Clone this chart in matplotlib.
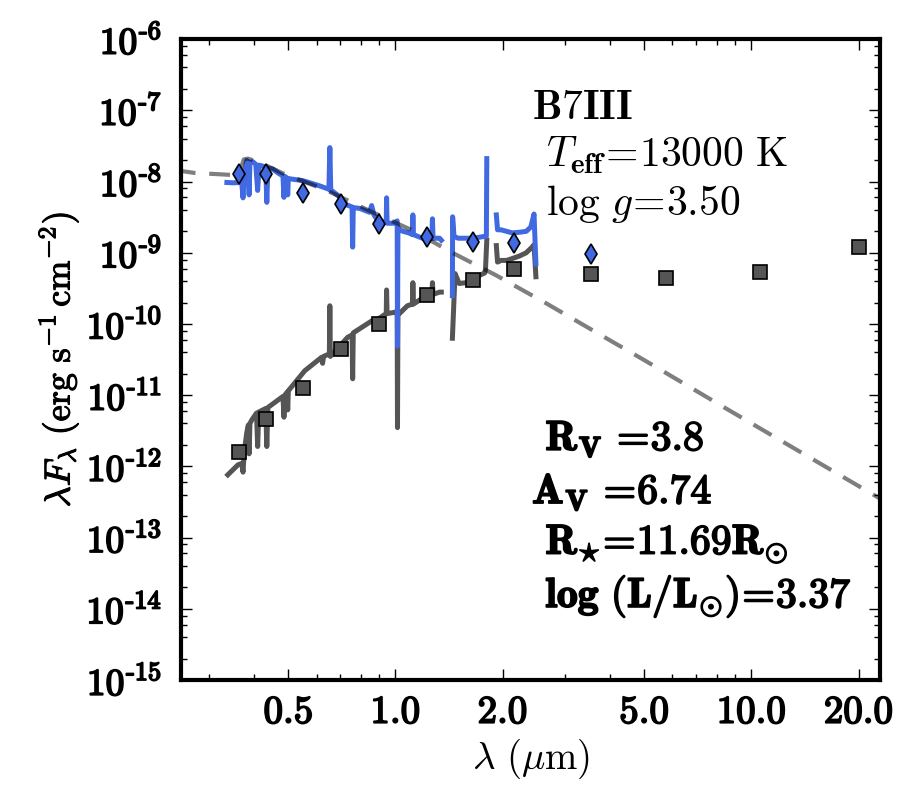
import numpy as np
import matplotlib
matplotlib.use("Agg")
import matplotlib.pyplot as plt
import matplotlib.patheffects as pe
from matplotlib.ticker import FixedLocator, FuncFormatter, LogLocator, NullFormatter

plt.rcParams["mathtext.fontset"] = "cm"
plt.rcParams["font.family"] = ["DejaVu Serif"]

nan = np.nan

# dereddened spectrum (blue)
wave_dered = [0.336, 0.350, 0.366, 0.370, 0.373, 0.376, 0.382, 0.386, 0.388, 0.390,
              0.397, 0.405, 0.410, 0.414, 0.432, 0.435, 0.438, 0.452, 0.470, 0.483,
              0.486, 0.489, 0.496, 0.498, 0.500, 0.549, 0.612, 0.650, 0.654, 0.658,
              0.666, 0.700, 0.729, 0.755, 0.758, 0.761, 0.793, 0.846, 0.857, 0.870,
              0.885, 0.900, 0.942, 0.944, 0.947, 0.990, 1.011, 1.013, 1.016, 1.026,
              1.050, 1.090, 1.116, 1.119, 1.123, 1.190, 1.265, 1.270, 1.275, 1.330,
              1.345, nan,
              1.445, 1.447, 1.460, 1.500, 1.580, 1.650, 1.720, 1.780, 1.800, 1.805, nan,
              1.920, 1.935, 1.980, 2.050, 2.130, 2.250, 2.330, 2.400, 2.450, 2.480]
flux_dered = [9.7e-9, 9.6e-9, 9.7e-9, 9.5e-9, 5.9e-9, 1.2e-8, 1.98e-8, 1.9e-8, 6.5e-9, 1.85e-8,
              1.9e-8, 1.75e-8, 7.5e-9, 1.7e-8, 1.6e-8, 5.1e-9, 1.55e-8, 1.5e-8, 1.3e-8, 1.2e-8,
              6.0e-9, 1.18e-8, 1.12e-8, 6.5e-9, 1.1e-8, 1.03e-8, 8.7e-9, 7.8e-9, 3.0e-8, 7.4e-9,
              7.3e-9, 6.0e-9, 4.7e-9, 4.4e-9, 1.2e-9, 4.3e-9, 4.2e-9, 3.7e-9, 4.6e-9, 3.4e-9,
              3.0e-9, 2.8e-9, 2.7e-9, 5.9e-9, 2.6e-9, 2.6e-9, 2.8e-9, 4.9e-11, 2.3e-9, 2.1e-9,
              2.0e-9, 1.9e-9, 1.8e-9, 3.4e-9, 1.8e-9, 1.6e-9, 1.6e-9, 3.0e-9, 1.6e-9, 1.6e-9,
              1.5e-9, nan,
              2.5e-10, 3.2e-9, 1.7e-9, 1.6e-9, 1.6e-9, 1.6e-9, 1.65e-9, 1.7e-9, 1.7e-9, 2.1e-8, nan,
              3.4e-9, 2.1e-9, 2.1e-9, 2.0e-9, 1.9e-9, 1.95e-9, 2.0e-9, 2.3e-9, 3.5e-9, 7.0e-10]

# observed spectrum (dark grey)
wave_obs = [0.338, 0.361, 0.370, 0.373, 0.376, 0.382, 0.386, 0.388, 0.390, 0.395,
            0.407, 0.410, 0.413, 0.432, 0.435, 0.438, 0.483, 0.486, 0.489, 0.496,
            0.498, 0.500, 0.556, 0.620, 0.624, 0.628, 0.652, 0.654, 0.656, 0.700,
            0.734, 0.755, 0.758, 0.761, 0.857, 0.900, 0.942, 0.944, 0.947, 0.990,
            1.011, 1.013, 1.016, 1.026, 1.080, 1.116, 1.119, 1.123, 1.190, 1.265,
            1.270, 1.275, 1.330, 1.345, nan,
            1.445, 1.470, 1.510, 1.580, 1.650, 1.720, 1.780, 1.790, 1.805, nan,
            1.920, 1.935, 1.980, 2.050, 2.130, 2.230, 2.330, 2.420, 2.450, 2.480]
flux_obs = [7.6e-13, 1.05e-12, 1.1e-12, 8.3e-13, 1.6e-12, 2.95e-12, 3.8e-12, 1.5e-12, 4.0e-12, 4.5e-12,
            5.6e-12, 1.9e-12, 5.8e-12, 6.5e-12, 1.9e-12, 6.7e-12, 9.6e-12, 4.9e-12, 1.0e-11, 1.1e-11,
            6.2e-12, 1.15e-11, 2.2e-11, 3.4e-11, 2.8e-11, 3.5e-11, 3.8e-11, 1.8e-10, 3.5e-11, 5.0e-11,
            6.5e-11, 7.0e-11, 1.7e-11, 7.5e-11, 1.1e-10, 1.2e-10, 1.4e-10, 3.0e-10, 1.4e-10, 1.45e-10,
            1.5e-10, 3.5e-12, 1.4e-10, 1.4e-10, 1.8e-10, 1.9e-10, 3.8e-10, 1.9e-10, 2.3e-10, 2.5e-10,
            3.8e-10, 2.6e-10, 2.8e-10, 2.8e-10, nan,
            6.3e-11, 5.1e-10, 3.7e-10, 3.8e-10, 4.2e-10, 4.8e-10, 5.2e-10, 5.8e-10, 1.5e-9, nan,
            1.26e-9, 7.4e-10, 7.8e-10, 7.8e-10, 8.3e-10, 9.0e-10, 1.0e-9, 1.2e-9, 1.3e-9, 4.6e-10]

# stellar model (dashed)
wave_model = [0.24, 0.273, 0.326, 0.362, 0.375, 0.385, 0.416, 0.483, 0.641, 0.863,
              1.116, 1.44, 1.92, 2.65, 4.0, 5.0, 8.62, 14.0, 23.5]
flux_model = [1.45e-8, 1.32e-8, 1.26e-8, 1.22e-8, 2.05e-8, 2.1e-8, 1.85e-8, 1.3e-8, 7.5e-9, 3.7e-9,
              2.06e-9, 1.01e-9, 4.8e-10, 1.95e-10, 5.9e-11, 3.1e-11, 6.2e-12, 1.5e-12, 3.3e-13]

# photometry
phot_wave = [0.363, 0.432, 0.549, 0.701, 0.896, 1.23, 1.65, 2.15, 3.54, 5.74, 10.6, 20.1]
phot_obs = [1.58e-12, 4.6e-12, 1.26e-11, 4.4e-11, 9.9e-11, 2.53e-10, 4.2e-10, 6.0e-10,
            5.0e-10, 4.4e-10, 5.3e-10, 1.19e-9]
dered_wave = [0.363, 0.432, 0.549, 0.701, 0.896, 1.23, 1.65, 2.15, 3.54]
phot_dered = [1.26e-8, 1.26e-8, 7.0e-9, 4.9e-9, 2.5e-9, 1.64e-9, 1.40e-9, 1.35e-9, 9.5e-10]

xticks = [0.5, 1.0, 2.0, 5.0, 10.0, 20.0]

fig = plt.figure(figsize=(9.15, 7.99), dpi=100)
ax = fig.add_axes([0.198, 0.149, 0.764, 0.802])

ax.plot(wave_obs, flux_obs, color="#555555", lw=3.6)
ax.plot(wave_dered, flux_dered, color="royalblue", lw=3.6)
ax.plot(wave_model, flux_model, color="k", alpha=0.5, lw=3, ls=(0, (5, 3.3)))
ax.plot(phot_wave, phot_obs, "s", color="#555555", mec="k", mew=1.2, ms=10.5)
ax.plot(dered_wave, phot_dered, "d", color="royalblue", mec="k", mew=1.2, ms=10.5)

ax.set_xscale("log")
ax.set_yscale("log")
ax.set_xlim(0.25, 23)
ax.set_ylim(1e-15, 1e-6)

ax.xaxis.set_major_locator(FixedLocator(xticks))
ax.xaxis.set_major_formatter(FuncFormatter(lambda v, p: r"$\mathbf{%.1f}$" % v))
ax.xaxis.set_minor_locator(LogLocator(base=10, subs=np.arange(2, 10), numticks=20))
ax.xaxis.set_minor_formatter(NullFormatter())
ax.yaxis.set_major_locator(LogLocator(base=10, numticks=20))
ax.yaxis.set_major_formatter(FuncFormatter(
    lambda v, p: r"$\mathbf{10^{\text{-}%d}}$" % int(round(-np.log10(v)))))
ax.yaxis.set_minor_locator(LogLocator(base=10, subs=(2, 4, 6, 8), numticks=20))
ax.yaxis.set_minor_formatter(NullFormatter())

ax.tick_params(which="both", direction="in", top=True, right=True)
ax.tick_params(which="major", length=8, width=1)
ax.tick_params(which="minor", length=4, width=1)
ax.tick_params(axis="y", pad=14, labelsize=27)
ax.tick_params(axis="x", pad=10, labelsize=28)
for s in ax.spines.values():
    s.set_linewidth(3)

heavy = [pe.withStroke(linewidth=1.3, foreground="k")]
light = [pe.withStroke(linewidth=0.8, foreground="k")]

ax.set_xlabel(r"$\lambda\ (\mu\mathrm{m})$", fontsize=28)
ax.set_ylabel(r"$\lambda F_{\lambda}\ (\mathrm{erg\ s^{-1}\,cm^{-2}})$", fontsize=26,
              path_effects=light)

fs = 30
ax.text(0.502, 0.875, r"$\mathbf{B7III}$", transform=ax.transAxes, fontsize=fs)
ax.text(0.522, 0.800, r"$T_{\mathbf{eff}}\!=\!\mathrm{13000\ K}$", transform=ax.transAxes, fontsize=fs)
ax.text(0.522, 0.725, r"$\mathrm{log}\ g\!=\!\mathrm{3.50}$", transform=ax.transAxes, fontsize=fs)
ax.text(0.521, 0.359, r"$\mathbf{R_V\ }\!=\!\mathbf{3.8}$", transform=ax.transAxes, fontsize=fs,
        path_effects=heavy)
ax.text(0.502, 0.276, r"$\mathbf{A_V\ }\!=\!\mathbf{6.74}$", transform=ax.transAxes, fontsize=fs,
        path_effects=heavy)
ax.text(0.521, 0.197, r"$\mathbf{R}_{\star}\!=\!\mathbf{11.69R}_{\odot}$", transform=ax.transAxes,
        fontsize=fs, path_effects=heavy)
ax.text(0.521, 0.114, r"$\mathbf{log\ (L/L}_{\odot}\mathbf{)}\!=\!\mathbf{3.37}$",
        transform=ax.transAxes, fontsize=fs, path_effects=heavy)

for lab in ax.get_xticklabels() + ax.get_yticklabels():
    lab.set_path_effects(heavy)

fig.savefig("out.png", dpi=100)
